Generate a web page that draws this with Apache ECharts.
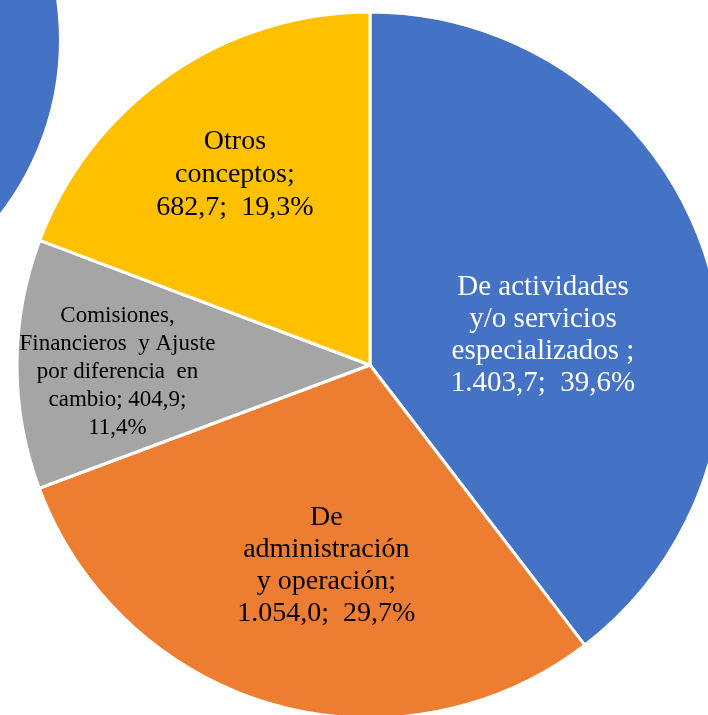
<!DOCTYPE html>
<html style="height: 100%">
	<head>
		<meta charset="utf-8">
	</head>
	<body style="height: 100%; margin: 0; background: #fff">
		<div id="container" style="width: 708px; height: 715px"></div>
		<script src="https://cdn.jsdelivr.net/npm/echarts@6/dist/echarts.min.js" type="text/javascript" charset="utf-8"></script>
		<script type="text/javascript">
			// categorias (con saltos de linea como en la etiqueta original)
			var categorias = [
				'De actividades\ny/o servicios\nespecializados ',
				'De\nadministración\ny operación',
				'Comisiones,\nFinancieros  y Ajuste\npor diferencia  en\ncambio',
				'Otros\nconceptos'
			];
			// valores
			var valores = [1403.7, 1054.0, 404.9, 682.7];
			var colores = ['#4472C4', '#ED7D31', '#A5A5A5', '#FFC000'];
			var coloresTexto = ['#fff', '#000', '#000', '#000'];
			// ajuste de posicion de etiquetas (px)
			var desplaza = [[3, 28], [6, 28], [-73, 7], [-33, -43]];
			var tamTexto = [29, 28, 23, 28];
			var altoLinea = [32, 32, 28, 33];

			var total = valores.reduce(function (a, b) { return a + b; }, 0);

			function formatoNum(v) {
				var partes = v.toFixed(1).split('.');
				var entero = partes[0].replace(/\B(?=(\d{3})+(?!\d))/g, '.');
				return entero + ',' + partes[1];
			}

			var datos = [];
			for (var i = 0; i < valores.length; i++) {
				datos.push({
					name: categorias[i],
					value: valores[i],
					itemStyle: { color: colores[i] },
					label: {
						color: coloresTexto[i],
						offset: desplaza[i],
						fontSize: tamTexto[i],
						lineHeight: altoLinea[i]
					}
				});
			}

			var myChart = echarts.init(document.getElementById('container'));
			var option = {
				backgroundColor: '#fff',
				animation: false,
				graphic: [{
					type: 'circle',
					shape: { cx: -224, cy: 40, r: 283 },
					style: { fill: '#4472C4' },
					z: 0
				}],
				series: [{
					type: 'pie',
					center: [370, 365],
					radius: 353,
					startAngle: 90,
					clockwise: true,
					avoidLabelOverlap: false,
					itemStyle: {
						borderColor: '#fff',
						borderWidth: 3
					},
					label: {
						show: true,
						position: 'inside',
						fontFamily: 'Liberation Serif',
						align: 'center',
						formatter: function (p) {
							var i = p.dataIndex;
							var v = formatoNum(valores[i]);
							var pct = (valores[i] / total * 100).toFixed(1).replace('.', ',') + '%';
							if (i === 2) {
								return p.name + '; ' + v + ';\n' + pct;
							}
							return p.name + ';\n' + v + ';  ' + pct;
						}
					},
					labelLine: { show: false },
					emphasis: { disabled: true },
					data: datos
				}]
			};
			myChart.setOption(option);
		</script>
	</body>
</html>
